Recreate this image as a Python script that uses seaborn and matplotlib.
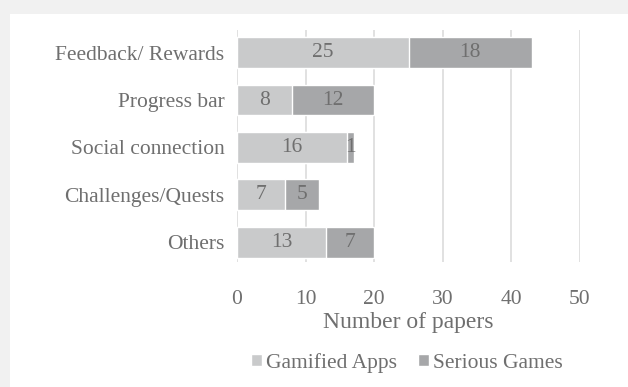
import matplotlib
matplotlib.use("Agg")
import matplotlib.pyplot as plt
from matplotlib import font_manager as fm
import seaborn as sns
import pandas as pd
from matplotlib.patches import Rectangle

categories = ["Feedback/ Rewards", "Progress bar", "Social connection", "Challenges/Quests", "Others"]
gamified_apps = [25, 8, 16, 7, 13]
serious_games = [18, 12, 1, 5, 7]
series_names = ["Gamified Apps", "Serious Games"]
colors = ["#c9cacb", "#a6a7a9"]
text_color = "#6f6f6f"

sns.set_theme(style="white")
plt.rcParams["font.family"] = ["Liberation Serif", "DejaVu Serif"]

SERIF_FILE = "/usr/share/fonts/truetype/liberation/LiberationSerif-Regular.ttf"
try:
    fm.FontProperties(fname=SERIF_FILE).get_name()
    def fp(size):
        return fm.FontProperties(fname=SERIF_FILE, size=size)
except Exception:
    def fp(size):
        return fm.FontProperties(family=["Liberation Serif", "DejaVu Serif"], size=size)

FS = 15.5

fig = plt.figure(figsize=(6.28, 3.87), dpi=100, facecolor="#f1f1f1")
bg = Rectangle((10 / 628, 0), 1, 1 - 14 / 387, transform=fig.transFigure,
               facecolor="white", edgecolor="none", zorder=-10)
fig.patches.append(bg)
ax = fig.add_axes([237 / 628, 1 - 262 / 387, (580 - 237) / 628, (262 - 30) / 387])
ax.set_zorder(5)
ax.set_facecolor("white")

df = pd.DataFrame({"cat": categories, "ga": gamified_apps, "sg": serious_games})
df["total"] = df["ga"] + df["sg"]

sns.barplot(data=df, y="cat", x="total", color=colors[1], ax=ax, width=0.65,
            saturation=1, label=series_names[1], zorder=3)
sns.barplot(data=df, y="cat", x="ga", color=colors[0], ax=ax, width=0.65,
            saturation=1, label=series_names[0], zorder=4)
if ax.get_legend() is not None:
    ax.get_legend().remove()

for i, (a, s) in enumerate(zip(gamified_apps, serious_games)):
    ax.text(a / 2, i, str(a), ha="center", va="center", fontproperties=fp(FS),
            color=text_color, zorder=5)
    ax.text(a + s / 2, i, str(s), ha="center", va="center", fontproperties=fp(FS),
            color=text_color, zorder=5)

ax.set_xlim(0, 50)
ax.set_ylim(4.42, -0.48)
ax.set_xticks([0, 10, 20, 30, 40, 50])
ax.set_xticklabels(["0", "10", "20", "30", "40", "50"], fontproperties=fp(FS))
ax.set_yticks(range(len(categories)))
ax.set_yticklabels(categories, fontproperties=fp(FS))
ax.grid(axis="x", color="#dcdcdc", linewidth=1.2, zorder=0)
ax.grid(axis="y", visible=False)
ax.set_axisbelow(True)
for sp in ax.spines.values():
    sp.set_visible(False)
ax.tick_params(axis="both", length=0, labelcolor=text_color)
ax.tick_params(axis="x", pad=20)
ax.tick_params(axis="y", pad=9)
ax.set_ylabel("")
ax.set_xlabel("Number of papers", fontproperties=fp(17), color=text_color, labelpad=2)

handles, labels = ax.get_legend_handles_labels()
order = [labels.index(n) for n in series_names]
leg = fig.legend([handles[k] for k in order], [labels[k] for k in order],
                 loc="center", bbox_to_anchor=(407 / 628, 1 - 363 / 387), ncol=2,
                 frameon=False, prop=fp(FS),
                 handlelength=0.5, handleheight=0.5,
                 handletextpad=0.2, columnspacing=1.0)
for t in leg.get_texts():
    t.set_color(text_color)

fig.savefig("out.png", dpi=100, facecolor=fig.get_facecolor())
